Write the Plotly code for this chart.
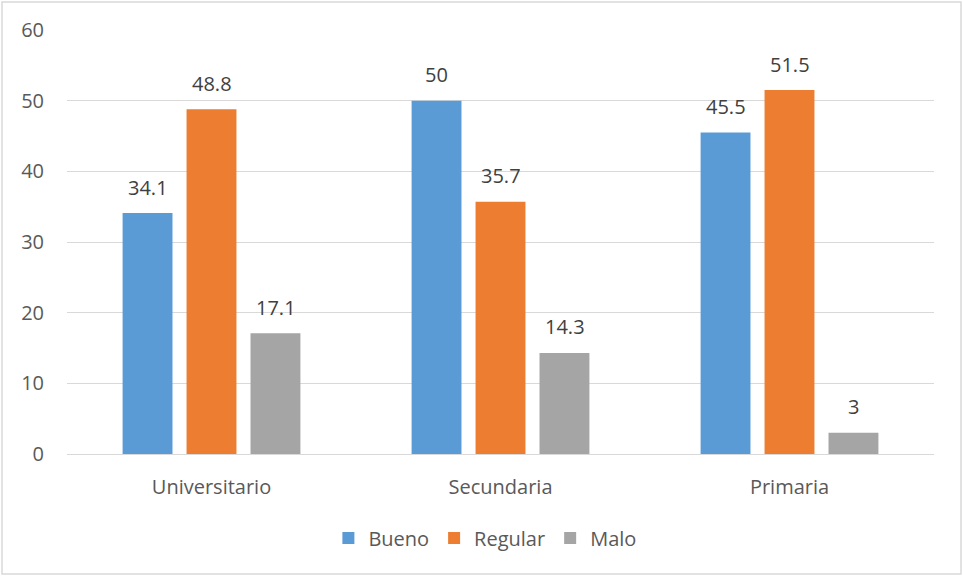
import plotly.graph_objects as go

categories = ["Universitario", "Secundaria", "Primaria"]
bueno = [34.1, 50, 45.5]
regular = [48.8, 35.7, 51.5]
malo = [17.1, 14.3, 3]
series_names = ["Bueno", "Regular", "Malo"]
colors = ["#5B9BD5", "#ED7D31", "#A5A5A5"]

font_family = "Open Sans, Liberation Sans, sans-serif"
txt_color = "#595959"

W, H = 963, 577
L, T, PW, PH = 67, 30, 867, 424
R, B = W - L - PW, H - T - PH
slot_px = 64

fig = go.Figure()
annotations = []
for i, (name, vals, c) in enumerate(zip(series_names, [bueno, regular, malo], colors)):
    fig.add_trace(go.Bar(
        x=categories, y=vals, name=name, marker=dict(color=c, line=dict(width=0)),
    ))
    for cat, v in zip(categories, vals):
        annotations.append(dict(
            x=cat, y=v, xref="x", yref="y", text=f"{v:g}", showarrow=False,
            xshift=(i - 1) * slot_px, yshift=26, yanchor="middle", xanchor="center",
            font=dict(size=20, color="#404040", family=font_family),
        ))

fig.update_layout(
    width=W, height=H,
    margin=dict(l=L, r=R, t=T, b=B),
    paper_bgcolor="white", plot_bgcolor="white",
    barmode="group", bargap=0.336, bargroupgap=0.22,
    font=dict(family=font_family, size=20, color=txt_color),
    showlegend=True,
    legend=dict(orientation="h", x=0.482, xanchor="center", y=(PH - 538 + T) / PH, yanchor="middle",
                font=dict(size=20, color=txt_color), traceorder="normal"),
    yaxis=dict(range=[0, 60], dtick=10, showgrid=True, gridcolor="#D9D9D9", gridwidth=1,
               zeroline=True, zerolinecolor="#D9D9D9", zerolinewidth=1,
               ticks="", tickfont=dict(size=20, color=txt_color), showline=False,
               ticklabelstandoff=22),
    xaxis=dict(showline=False, ticks="", tickfont=dict(size=20, color=txt_color),
               ticklabelstandoff=19),
    annotations=annotations,
    shapes=[dict(type="rect", xref="paper", yref="paper",
                 x0=(2 - L) / PW, x1=(961 - L) / PW,
                 y0=(T + PH - 574) / PH, y1=(T + PH - 2) / PH,
                 line=dict(color="#D9D9D9", width=1.5),
                 fillcolor="rgba(0,0,0,0)", layer="below")],
)

fig.write_html("out.html", config={"displayModeBar": False},
               post_script="document.body.style.margin='0';document.body.style.overflow='hidden';")
